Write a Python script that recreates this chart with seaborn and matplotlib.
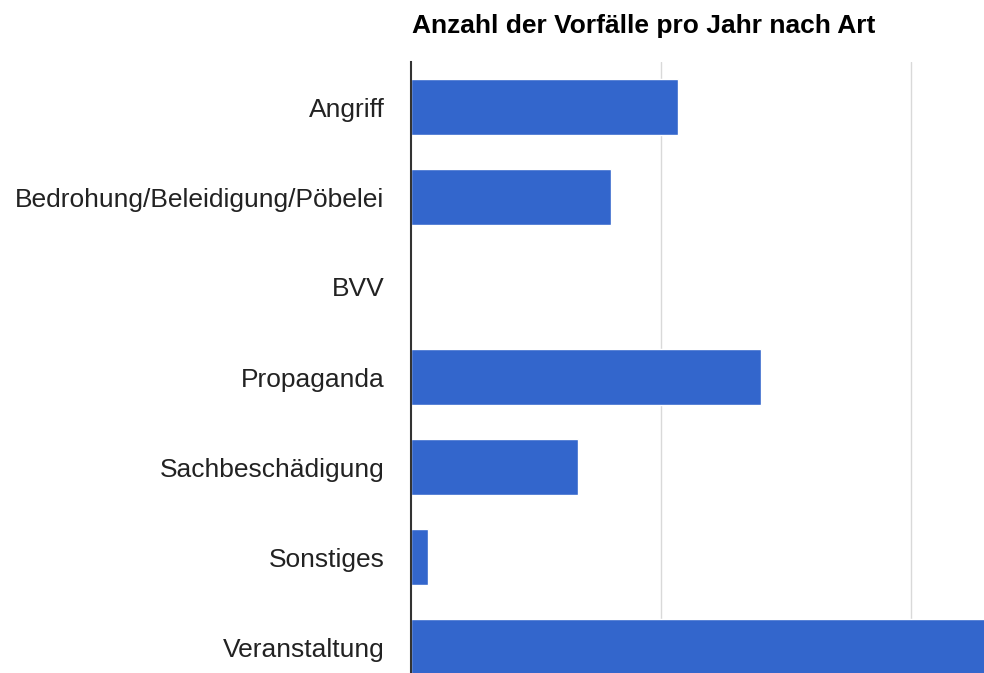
import matplotlib
matplotlib.use("Agg")
import matplotlib.pyplot as plt
import seaborn as sns
import pandas as pd

categories = ["Angriff", "Bedrohung/Beleidigung/Pöbelei", "BVV", "Propaganda",
              "Sachbeschädigung", "Sonstiges", "Veranstaltung"]
values = [16, 12, 0, 21, 10, 1, 40]
title = "Anzahl der Vorfälle pro Jahr nach Art"

df = pd.DataFrame({"Art": categories, "Anzahl": values})

sns.set_theme(style="white")
plt.rcParams['font.family'] = ['Liberation Sans', 'DejaVu Sans']

W, H = 984, 673
fig = plt.figure(figsize=(W / 100, H / 100), dpi=100)
ax_left = 411 / W
ax_top = 62 / H
ax_h = 630 / H
ax_w = 750 / W
ax = fig.add_axes([ax_left, 1 - ax_top - ax_h, ax_w, ax_h])

sns.barplot(data=df, x="Anzahl", y="Art", orient="h", color="#3366CC",
            saturation=1, width=0.62, ax=ax)
ax.set_xlim(0, 45)
ax.set_ylim(6.5, -0.5)
ax.set_xticks([15, 30, 45])
ax.xaxis.grid(True, color="#d9d9d9", linewidth=1)
ax.set_axisbelow(True)
ax.set_xticklabels([])
ax.tick_params(axis="x", length=0)
ax.tick_params(axis="y", length=0, pad=19, labelsize=19, labelcolor="#222222")
ax.set_xlabel("")
ax.set_ylabel("")
for s in ["top", "right", "bottom"]:
    ax.spines[s].set_visible(False)
ax.spines["left"].set_color("#333333")
ax.spines["left"].set_linewidth(1.5)
ax.spines["left"].set_zorder(5)

fig.text(412 / W, 1 - 33 / H, title, fontsize=19, fontweight="bold",
         color="#000000", ha="left", va="baseline")

fig.savefig("out.png", dpi=100)
